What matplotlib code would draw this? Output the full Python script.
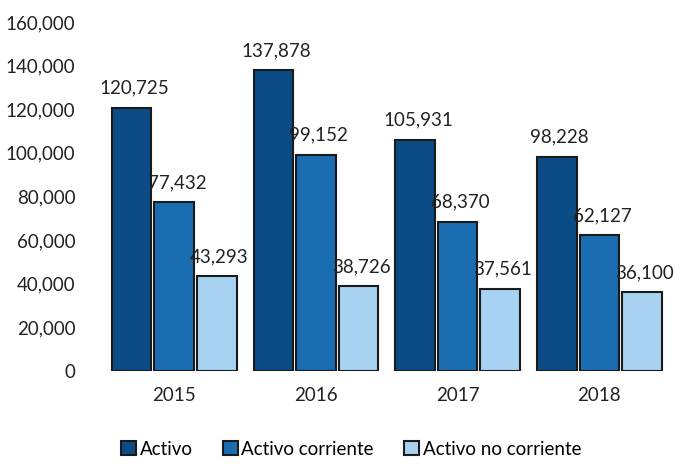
import matplotlib.pyplot as plt
import numpy as np

## Datos
anios = ['2015', '2016', '2017', '2018']
activo = [120725, 137878, 105931, 98228]
activo_corriente = [77432, 99152, 68370, 62127]
activo_no_corriente = [43293, 38726, 37561, 36100]

series = [('Activo', activo, '#0c4c86'),
          ('Activo corriente', activo_corriente, '#1b6db2'),
          ('Activo no corriente', activo_no_corriente, '#a8d2f1')]
#############################

plt.rcParams['font.family'] = ['Lato', 'DejaVu Sans']

fig = plt.figure(figsize=(6.75, 4.7), dpi=100)
ax = fig.add_axes([0.153, 0.211, 0.84, 0.742])

x = np.arange(len(anios))
ancho = 0.28
paso = 0.30
for i, (nombre, vals, color) in enumerate(series):
    pos = x + (i - 1) * paso
    ax.bar(pos, vals, width=ancho, color=color, edgecolor='#1a1a1a',
           linewidth=1.5, label=nombre)
    for px, v in zip(pos, vals):
        ax.annotate(f'{v:,}', (px, v), xytext=(2, 8), textcoords='offset points',
                    ha='center', va='bottom', fontsize=13.5, color='#222222')

ax.set_xlim(-0.5, 3.5)
ax.set_ylim(0, 160000)
ax.set_yticks(range(0, 160001, 20000))
ax.yaxis.set_major_formatter(plt.FuncFormatter(lambda v, p: f'{int(v):,}'))
ax.set_xticks(x)
ax.set_xticklabels(anios)
ax.tick_params(length=0, labelsize=13.5, colors='#222222')
ax.tick_params(axis='x', pad=12)
ax.tick_params(axis='y', pad=20)
for s in ax.spines.values():
    s.set_visible(False)

fig.legend(loc='lower center', bbox_to_anchor=(0.52, -0.01), ncol=3, frameon=False,
           fontsize=13.5, handlelength=0.8, handleheight=0.8, handletextpad=0.2,
           columnspacing=1.6)

fig.savefig('out.png')
